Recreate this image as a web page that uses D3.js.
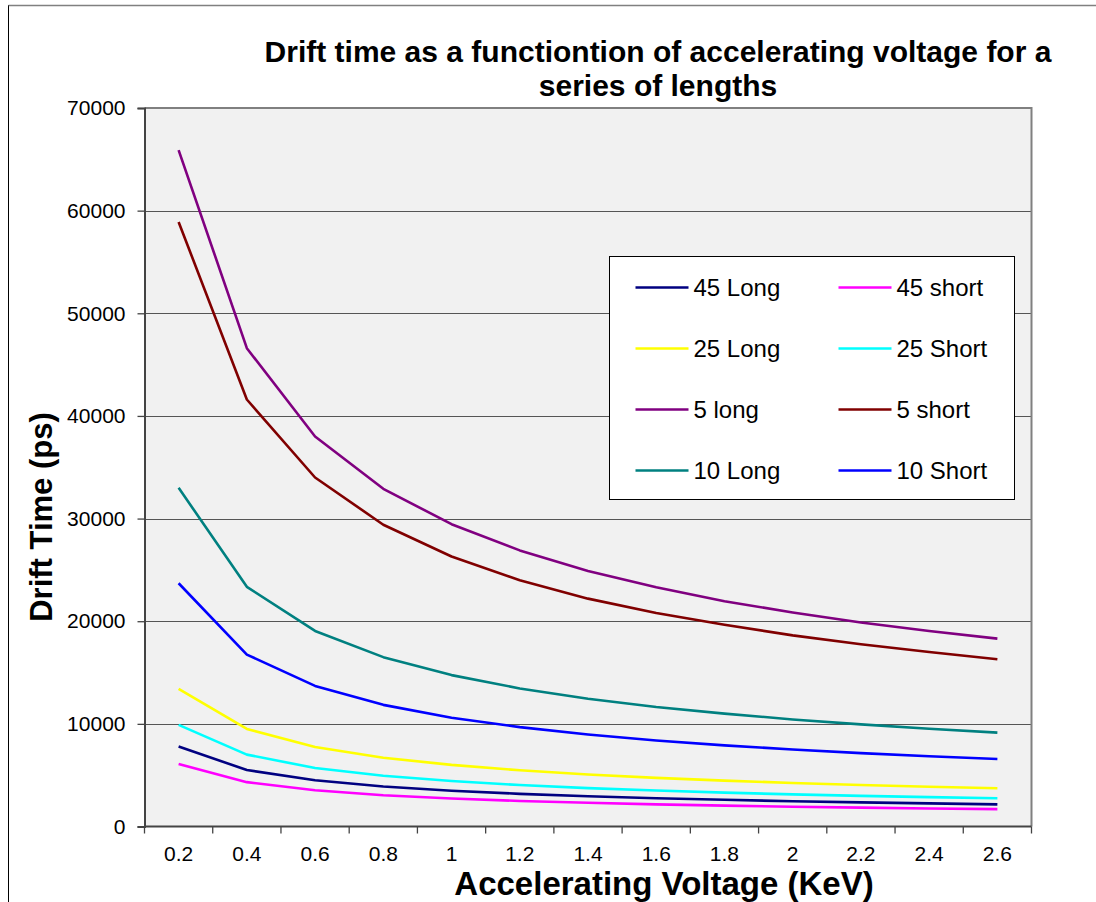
<!DOCTYPE html>
<html>
<head>
<meta charset="utf-8">
<script src="https://cdn.jsdelivr.net/npm/d3@7"></script>
<style>
  html, body { margin: 0; padding: 0; background: #fff; }
  svg { display: block; font-family: Arial, "Liberation Sans", sans-serif; }
</style>
</head>
<body>
<svg id="chart" width="1096" height="902"></svg>
<script>
// Accelerating voltage categories (KeV)
const voltages = ["0.2", "0.4", "0.6", "0.8", "1", "1.2", "1.4", "1.6", "1.8", "2", "2.2", "2.4", "2.6"];
const yTicks = [0, 10000, 20000, 30000, 40000, 50000, 60000, 70000];

// Drift time (ps) per series
const long45  = [7800, 5500, 4500, 3900, 3490, 3180, 2950, 2750, 2600, 2460, 2350, 2250, 2160];
const short45 = [6100, 4320, 3530, 3050, 2730, 2490, 2310, 2160, 2030, 1930, 1840, 1760, 1690];
const long25  = [13400, 9500, 7750, 6700, 6000, 5480, 5070, 4740, 4470, 4240, 4040, 3870, 3720];
const short25 = [9900, 7000, 5700, 4950, 4430, 4040, 3740, 3500, 3300, 3130, 2980, 2860, 2750];
const long5   = [65900, 46600, 38000, 32900, 29450, 26900, 24900, 23300, 21950, 20850, 19880, 19050, 18300];
const short5  = [58900, 41600, 34000, 29400, 26300, 24000, 22200, 20800, 19650, 18620, 17750, 17000, 16300];
const long10  = [33000, 23350, 19050, 16500, 14750, 13450, 12450, 11650, 11000, 10430, 9950, 9530, 9150];
const short10 = [23700, 16750, 13700, 11850, 10600, 9680, 8960, 8380, 7900, 7500, 7150, 6840, 6570];

const seriesNames  = ["45 Long", "45 short", "25 Long", "25 Short", "5 long", "5 short", "10 Long", "10 Short"];
const seriesColors = ["#000080", "#ff00ff", "#ffff00", "#00ffff", "#800080", "#800000", "#008080", "#0000ff"];
const seriesValues = [long45, short45, long25, short25, long5, short5, long10, short10];

const series = seriesNames.map((name, i) => ({ name, color: seriesColors[i], values: seriesValues[i] }));

const svg = d3.select("#chart");

// Outer chart frame
svg.append("rect")
  .attr("x", 8.5).attr("y", 5.5).attr("width", 1200).attr("height", 1000)
  .attr("fill", "none").attr("stroke", "#000").attr("stroke-width", 1);
svg.append("line")
  .attr("x1", 8.5).attr("x2", 1096).attr("y1", 5.5).attr("y2", 5.5)
  .attr("stroke", "#808080").attr("stroke-width", 1.5);

const plot = { left: 144.5, top: 108, right: 1031.5, bottom: 826.5 };

const x = d3.scaleBand().domain(voltages).range([plot.left, plot.right]).paddingInner(0).paddingOuter(0);
const y = d3.scaleLinear().domain([0, 70000]).range([plot.bottom, plot.top]);

// Plot background
svg.append("rect")
  .attr("x", plot.left).attr("y", plot.top)
  .attr("width", plot.right - plot.left).attr("height", plot.bottom - plot.top)
  .attr("fill", "#f1f1f1");

// Horizontal gridlines
svg.append("g").selectAll("line")
  .data(yTicks.filter(d => d > 0 && d < 70000))
  .join("line")
  .attr("x1", plot.left).attr("x2", plot.right)
  .attr("y1", d => Math.round(y(d)) + 0.5).attr("y2", d => Math.round(y(d)) + 0.5)
  .attr("stroke", "#555").attr("stroke-width", 1.2);

// Plot border: gray top/right
svg.append("path")
  .attr("d", `M${plot.left},${plot.top}H${plot.right}V${plot.bottom}`)
  .attr("fill", "none").attr("stroke", "#808080").attr("stroke-width", 2);

// Y axis
const yAxis = d3.axisLeft(y).tickValues(yTicks).tickSize(7).tickPadding(12).tickFormat(d3.format("d"));
const gy = svg.append("g").attr("transform", `translate(${plot.left},0)`).call(yAxis);
gy.attr("font-size", 21).attr("font-family", "Arial, 'Liberation Sans', sans-serif");
gy.select(".domain").attr("stroke", "#444").attr("stroke-width", 2);
gy.selectAll(".tick line").attr("stroke", "#444").attr("stroke-width", 1.3);
gy.selectAll(".tick text").attr("font-size", 21).attr("fill", "#000");

// X axis: labels centred on categories, ticks between categories
const gx = svg.append("g").attr("transform", `translate(0,${plot.bottom})`);
gx.append("line").attr("x1", plot.left).attr("x2", plot.right)
  .attr("stroke", "#444").attr("stroke-width", 2);
const boundaries = voltages.map(v => x(v)).concat([x(voltages[voltages.length - 1]) + x.bandwidth()]);
gx.selectAll("line.tk").data(boundaries).join("line").attr("class", "tk")
  .attr("x1", d => d).attr("x2", d => d).attr("y1", 0).attr("y2", 7)
  .attr("stroke", "#444").attr("stroke-width", 1.3);
gx.selectAll("text").data(voltages).join("text")
  .attr("x", d => x(d) + x.bandwidth() / 2).attr("y", 34)
  .attr("text-anchor", "middle").attr("font-size", 21).attr("fill", "#000")
  .text(d => d);

// Series lines
const line = d3.line()
  .x((d, i) => x(voltages[i]) + x.bandwidth() / 2)
  .y(d => y(d));

svg.append("g").selectAll("path")
  .data(series)
  .join("path")
  .attr("d", d => line(d.values))
  .attr("fill", "none")
  .attr("stroke", d => d.color)
  .attr("stroke-width", 2.6)
  .attr("stroke-linejoin", "round");

// Legend
const lg = svg.append("g").attr("transform", "translate(609.5,256.5)");
lg.append("rect").attr("width", 405).attr("height", 243)
  .attr("fill", "#fff").attr("stroke", "#000").attr("stroke-width", 1);
const lgItem = lg.selectAll("g.item").data(series).join("g").attr("class", "item")
  .attr("transform", (d, i) => `translate(${(i % 2) * 203},${31 + Math.floor(i / 2) * 61})`);
lgItem.append("line").attr("x1", 26).attr("x2", 79).attr("y1", 0).attr("y2", 0)
  .attr("stroke", d => d.color).attr("stroke-width", 2.6);
lgItem.append("text").attr("x", 84).attr("y", 8.5).attr("font-size", 24).attr("fill", "#000")
  .text(d => d.name);

// Title
const title = svg.append("text").attr("text-anchor", "middle")
  .attr("font-size", 30).attr("font-weight", "bold").attr("fill", "#000");
title.append("tspan").attr("x", 658).attr("y", 62).text("Drift time as a functiontion of accelerating voltage for a");
title.append("tspan").attr("x", 658).attr("y", 96).text("series of lengths");

// Axis titles
svg.append("text").attr("x", 664).attr("y", 895).attr("text-anchor", "middle")
  .attr("font-size", 33).attr("font-weight", "bold").text("Accelerating Voltage (KeV)");
svg.append("text").attr("transform", "translate(52,517) rotate(-90)").attr("text-anchor", "middle")
  .attr("font-size", 31).attr("font-weight", "bold").text("Drift Time (ps)");
</script>
</body>
</html>
